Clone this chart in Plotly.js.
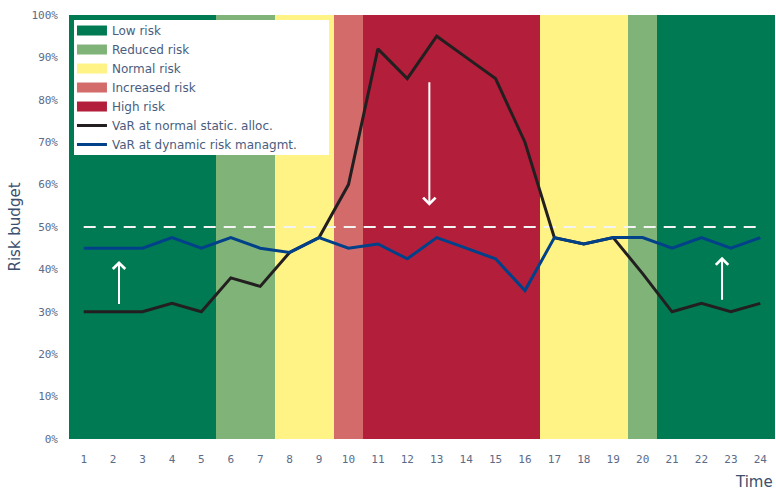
<!DOCTYPE html>
<html>
<head>
<meta charset="utf-8">
<script src="https://cdn.plot.ly/plotly-3.0.1.min.js"></script>
<style>html,body{margin:0;padding:0;background:#fff;}#chart{width:776px;height:490px;}</style>
</head>
<body>
<div id="chart"></div>
<script>
// ---- data ----
const time = [1,2,3,4,5,6,7,8,9,10,11,12,13,14,15,16,17,18,19,20,21,22,23,24];
const riskLevel = ['Low','Low','Low','Low','Low','Reduced','Reduced','Normal','Normal','Increased',
  'High','High','High','High','High','High','Normal','Normal','Normal','Reduced','Low','Low','Low','Low'];
const riskCategories = ['Low','Reduced','Normal','Increased','High'];
const riskNames = ['Low risk','Reduced risk','Normal risk','Increased risk','High risk'];
const riskColors = ['#007a52','#7fb378','#fff385','#d46b6b','#b31f3a'];
const bandHeight = 100;
const varStatic = [30,30,30,32,30,38,36,44,47.5,60,92,85,95,90,85,70,47.5,46,47.5,39,30,32,30,32];
const varDynamic = [45,45,45,47.5,45,47.5,45,44,47.5,45,46,42.5,47.5,45,42.5,35,47.5,46,47.5,47.5,45,47.5,45,47.5];
const budgetLimit = 50;
const yTicks = [0,10,20,30,40,50,60,70,80,90,100];
const arrows = [ // [x, tailY, headY]
  [2.2, 31.5, 42],
  [12.75, 84.5, 55],
  [22.7, 32.5, 43]
];

const traces = [];
// background bands (bars)
riskCategories.forEach((c, i) => {
  const xs = time.filter((t, k) => riskLevel[k] === c);
  traces.push({
    type: 'bar', x: xs, y: xs.map(() => bandHeight), width: 1,
    marker: {color: riskColors[i], line: {width: 0}},
    showlegend: false, hoverinfo: 'skip', name: riskNames[i]
  });
});
// legend entries for bands
riskCategories.forEach((c, i) => {
  traces.push({
    type: 'scatter', mode: 'lines', x: [null], y: [null],
    line: {color: riskColors[i], width: 11}, name: riskNames[i], showlegend: true
  });
});
// threshold dashed line
traces.push({
  type: 'scatter', mode: 'lines', x: [time[0], time[time.length-1]], y: [budgetLimit, budgetLimit],
  line: {color: '#f4f4f4', width: 2, dash: '12px,8px'}, showlegend: false, hoverinfo: 'skip'
});
traces.push({
  type: 'scatter', mode: 'lines', x: time, y: varStatic, name: 'VaR at normal static. alloc.',
  line: {color: '#231f20', width: 3}
});
traces.push({
  type: 'scatter', mode: 'lines', x: time, y: varDynamic, name: 'VaR at dynamic risk managmt.',
  line: {color: '#00418a', width: 3}
});

const annotations = arrows.map(a => ({
  x: a[0], y: a[2], ax: a[0], ay: a[1], xref: 'x', yref: 'y', axref: 'x', ayref: 'y',
  showarrow: true, arrowhead: 4, arrowsize: 1.2, arrowwidth: 2, arrowcolor: '#ffffff', text: ''
}));
annotations.push({
  text: 'Time', xref: 'paper', yref: 'paper', x: 1, y: 0, xanchor: 'right', yanchor: 'top',
  yshift: -32, showarrow: false, font: {family: 'DejaVu Sans', size: 15, color: '#3b4f6e'}
});

const layout = {
  width: 776, height: 490,
  margin: {l: 69, r: 1, t: 15, b: 51},
  paper_bgcolor: '#ffffff', plot_bgcolor: '#ffffff',
  barmode: 'overlay', bargap: 0,
  showlegend: true,
  legend: {
    x: 0.0042, y: 0.9976, xanchor: 'left', yanchor: 'top',
    bgcolor: 'rgba(0,0,0,0)', borderwidth: 0, traceorder: 'normal',
    font: {family: 'DejaVu Sans', size: 12, color: '#4a5d7e'}
  },
  shapes: [{
    type: 'rect', xref: 'paper', yref: 'paper', layer: 'above',
    x0: 0.0071, x1: 0.3683, y0: 0.6698, y1: 0.9882,
    fillcolor: '#ffffff', line: {width: 0}
  }],
  xaxis: {
    range: [0.5, 24.5], tickmode: 'array', tickvals: time, ticktext: time.map(String),
    showgrid: false, zeroline: false, showline: false, ticks: '',
    ticklabelstandoff: 12,
    tickfont: {family: 'DejaVu Sans Mono', size: 11, color: '#5b6b88'}
  },
  yaxis: {
    range: [0, 100], tickmode: 'array', tickvals: yTicks, ticktext: yTicks.map(v => v + '%'),
    showgrid: false, zeroline: false, showline: false, ticks: '',
    ticklabelstandoff: 10,
    tickfont: {family: 'DejaVu Sans Mono', size: 11, color: '#5b6b88'},
    title: {text: 'Risk budget', font: {family: 'DejaVu Sans', size: 15, color: '#3b4f6e'}, standoff: 7}
  },
  annotations: annotations
};

Plotly.newPlot('chart', traces, layout, {displayModeBar: false, staticPlot: true});
</script>
</body>
</html>
